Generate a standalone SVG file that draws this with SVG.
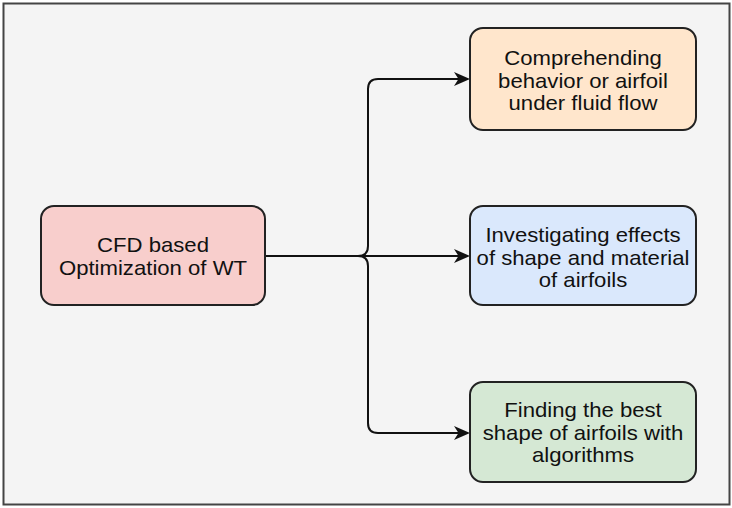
<svg xmlns="http://www.w3.org/2000/svg" width="732" height="508" viewBox="0 0 732 508">
  <style>
    .node { stroke: #222; stroke-width: 2; }
    .lbl { font-family: "Liberation Sans", Arial, sans-serif; font-size: 20.5px; fill: #111; text-anchor: middle; }
    .edge { fill: none; stroke: #111; stroke-width: 2; }
    .head { fill: #111; stroke: none; }
  </style>
  <rect x="3.5" y="3.5" width="726" height="501" fill="#f4f4f4" stroke="#444" stroke-width="2"/>
  <g id="connectors">
    <path class="edge" d="M265,256 H358 Q368,256 368,246 V89 Q368,79 378,79 H460"/>
    <path class="edge" d="M265,256 H460"/>
    <path class="edge" d="M265,256 H358 Q368,256 368,266 V423 Q368,433 378,433 H460"/>
    <path class="head" d="M470,79 L454,72 L458.5,79 L454,86 Z"/>
    <path class="head" d="M470,256 L454,249 L458.5,256 L454,263 Z"/>
    <path class="head" d="M470,433 L454,426 L458.5,433 L454,440 Z"/>
  </g>
  <g id="cfd">
    <rect class="node" x="41" y="206" width="224" height="99" rx="13" fill="#f8cecc"/>
    <g transform="translate(153,0) scale(1.08,1)">
      <text class="lbl" x="0" y="252">CFD based</text>
      <text class="lbl" x="0" y="275">Optimization of WT</text>
    </g>
  </g>
  <g id="comprehending">
    <rect class="node" x="470" y="28" width="226" height="102" rx="13" fill="#ffe6cc"/>
    <g transform="translate(583,0) scale(1.08,1)">
      <text class="lbl" x="0" y="65">Comprehending</text>
      <text class="lbl" x="0" y="88">behavior or airfoil</text>
      <text class="lbl" x="0" y="110">under fluid flow</text>
    </g>
  </g>
  <g id="investigating">
    <rect class="node" x="470" y="206" width="226" height="99" rx="13" fill="#dae8fc"/>
    <g transform="translate(583,0) scale(1.08,1)">
      <text class="lbl" x="0" y="242">Investigating effects</text>
      <text class="lbl" x="0" y="265">of shape and material</text>
      <text class="lbl" x="0" y="287">of airfoils</text>
    </g>
  </g>
  <g id="finding">
    <rect class="node" x="470" y="382" width="226" height="100" rx="13" fill="#d5e8d4"/>
    <g transform="translate(583,0) scale(1.08,1)">
      <text class="lbl" x="0" y="417">Finding the best</text>
      <text class="lbl" x="0" y="440">shape of airfoils with</text>
      <text class="lbl" x="0" y="462">algorithms</text>
    </g>
  </g>
</svg>
